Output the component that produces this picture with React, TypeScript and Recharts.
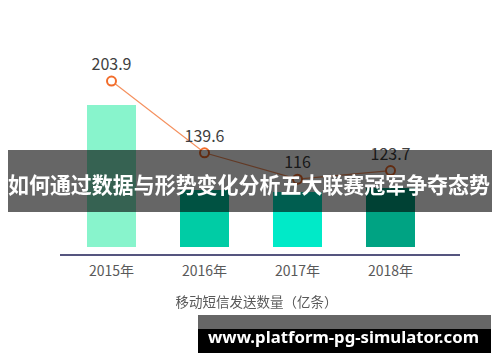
import { Bar, Cell, ComposedChart, LabelList, Line, XAxis, YAxis } from "recharts";

const years = ["2015年", "2016年", "2017年", "2018年"];
const smsCount = [203.9, 139.6, 116, 123.7];
const barHeights = [142, 57, 55, 59];

const barColors = ["#88f4cc", "#00cca5", "#00eac8", "#00a383"];

const chartData = years.map((year, i) => ({
  year,
  sms: smsCount[i],
  bar: barHeights[i],
}));

const font = '"Noto Sans CJK SC", "Noto Sans", sans-serif';

function App() {
  return (
    <div
      style={{
        position: "fixed",
        left: 0,
        top: 0,
        width: 500,
        height: 362,
        background: "#fff",
        fontFamily: font,
      }}
    >
      <ComposedChart
        width={500}
        height={362}
        data={chartData}
        margin={{ top: 57, right: 40, bottom: 77, left: 60 }}
      >
        <XAxis
          dataKey="year"
          height={30}
          padding={{ left: 5, right: 23 }}
          axisLine={{ stroke: "#55557f", strokeWidth: 2 }}
          tickLine={false}
          tickMargin={5}
          tick={{ fill: "#595959", fontSize: 14, fontFamily: font }}
        />
        <YAxis
          yAxisId="bar"
          width={0}
          domain={[0, 190]}
          padding={{ top: 0, bottom: 8 }}
          tick={false}
          tickLine={false}
          axisLine={{ stroke: "#55557f", strokeWidth: 2 }}
        />
        <YAxis yAxisId="line" hide domain={[48, 225.5]} />
        <Bar yAxisId="bar" dataKey="bar" barSize={49} isAnimationActive={false}>
          {chartData.map((d, i) => (
            <Cell key={d.year} fill={barColors[i]} />
          ))}
        </Bar>
        <Line
          yAxisId="line"
          type="linear"
          dataKey="sms"
          stroke="#f5915f"
          strokeWidth={1.2}
          dot={{ r: 4.5, stroke: "#f26d2b", strokeWidth: 2, fill: "#fff" }}
          isAnimationActive={false}
        >
          <LabelList
            dataKey="sms"
            position="top"
            offset={11}
            fill="#404040"
            fontSize={16}
            fontFamily={font}
          />
        </Line>
      </ComposedChart>
      <div
        style={{
          position: "absolute",
          left: 0,
          width: 513,
          top: 293,
          textAlign: "center",
          fontSize: 13.5,
          lineHeight: "16px",
          color: "#595959",
        }}
      >
        移动短信发送数量（亿条）
      </div>
      <svg
        width={500}
        height={362}
        style={{ position: "absolute", left: 0, top: 0, pointerEvents: "none" }}
      >
        <rect x={8} y={150} width={484} height={62} fill="rgba(0,0,0,0.6)" />
        <text
          x={8}
          y={182.5}
          fill="#fff"
          fontSize={22}
          fontWeight="bold"
          fontFamily={font}
          dominantBaseline="central"
          textLength={482}
          lengthAdjust="spacingAndGlyphs"
        >
          如何通过数据与形势变化分析五大联赛冠军争夺态势
        </text>
        <rect x={198} y={315} width={293} height={14} fill="#666" />
        <rect x={198} y={329} width={293} height={24} fill="#000" />
        <text
          x={208}
          y={342.7}
          fill="#fff"
          fontSize={16}
          fontWeight="bold"
          fontFamily='"Noto Sans", sans-serif'
          textLength={271}
          lengthAdjust="spacingAndGlyphs"
        >
          www.platform-pg-simulator.com
        </text>
      </svg>
    </div>
  );
}

export default App;
